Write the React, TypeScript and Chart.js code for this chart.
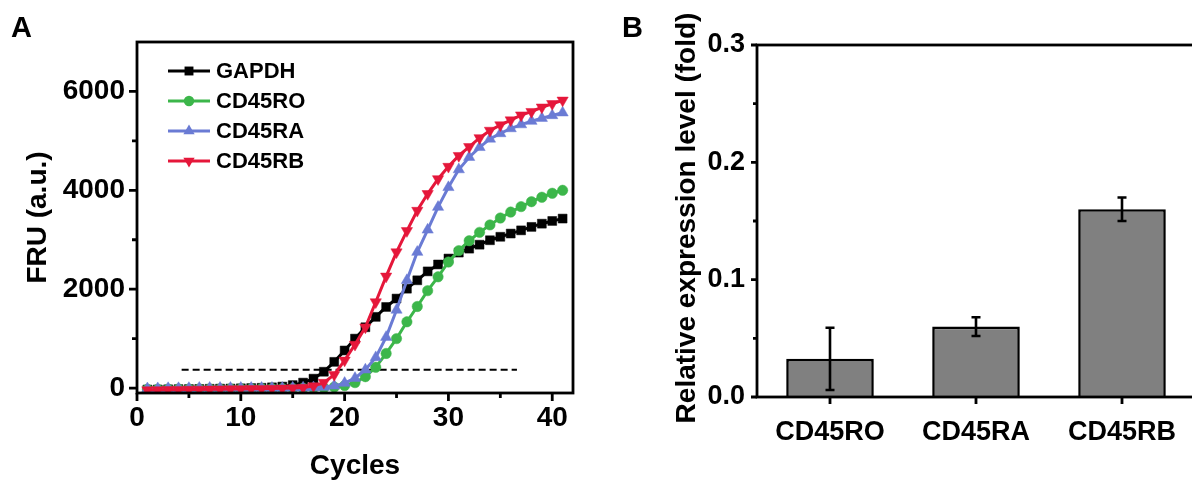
import React, { useEffect, useRef } from 'react';
import { Chart, registerables } from 'chart.js';

Chart.register(...registerables);

// ---------- Panel A data ----------
const cycles = [1, 2, 3, 4, 5, 6, 7, 8, 9, 10, 11, 12, 13, 14, 15, 16, 17, 18, 19, 20, 21, 22, 23, 24, 25, 26, 27, 28, 29, 30, 31, 32, 33, 34, 35, 36, 37, 38, 39, 40, 41];
const gapdh = [-30, -28, -25, -22, -20, -18, -15, -12, -10, -5, 0, 5, 15, 30, 60, 110, 190, 330, 530, 760, 1000, 1230, 1440, 1640, 1810, 2010, 2180, 2360, 2500, 2620, 2740, 2820, 2900, 2990, 3060, 3125, 3190, 3260, 3325, 3380, 3428];
const cd45ro = [-25, -24, -22, -20, -20, -18, -18, -16, -15, -14, -12, -10, -10, -8, -6, -4, 0, 5, 20, 50, 110, 230, 420, 700, 1000, 1340, 1650, 1970, 2250, 2550, 2780, 2980, 3150, 3300, 3440, 3560, 3670, 3770, 3860, 3940, 4000];
const cd45ra = [-10, -8, -5, -5, -3, 0, 0, 0, 0, 0, 0, 0, 0, 0, 5, 5, 10, 20, 45, 100, 200, 370, 620, 1030, 1580, 2180, 2750, 3200, 3660, 4060, 4420, 4670, 4870, 5040, 5150, 5250, 5330, 5400, 5460, 5515, 5570];
const cd45rb = [-40, -38, -35, -32, -30, -28, -25, -22, -20, -18, -15, -12, -10, -5, 0, 10, 40, 110, 270, 560, 880, 1230, 1740, 2260, 2750, 3180, 3590, 3930, 4230, 4480, 4700, 4880, 5060, 5210, 5320, 5420, 5520, 5590, 5680, 5750, 5820];
const thresholdCycles = [4.3, 36.6];
const thresholdLevel = [370, 370];
const seriesNames = ['GAPDH', 'CD45RO', 'CD45RA', 'CD45RB'];
const xMajorTicks = [0, 10, 20, 30, 40];
const xMinorTicks = [5, 15, 25, 35];
const yMajorTicks = [0, 2000, 4000, 6000];
const yMinorTicks = [1000, 3000, 5000];

// ---------- Panel B data ----------
const barCategories = ['CD45RO', 'CD45RA', 'CD45RB'];
const barValues = [0.0325, 0.06, 0.16];
const barErrors = [0.0265, 0.008, 0.01];
const barMajorTicks = [0, 0.1, 0.2, 0.3];
const barMinorTicks = [0.05, 0.15, 0.25];

const FONT = "'Liberation Sans', Arial, Helvetica, sans-serif";
Chart.defaults.font.family = FONT;

const colors = ['#000000', '#3cb64a', '#6a7bd4', '#e5173a'];
const styles: any[] = ['rect', 'circle', 'triangle', 'triangle'];
const rotations = [0, 0, 0, 180];
const radii = [6.3, 5.2, 6.5, 6.5];

function drawMarker(ctx: CanvasRenderingContext2D, idx: number, x: number, y: number) {
  const r = radii[idx];
  ctx.beginPath();
  if (idx === 0) {
    const s = r * Math.SQRT1_2;
    ctx.rect(x - s, y - s, 2 * s, 2 * s);
  } else if (idx === 1) {
    ctx.arc(x, y, r, 0, Math.PI * 2);
  } else {
    const dir = idx === 3 ? -1 : 1;
    let rad = 0;
    for (let k = 0; k < 3; k++) {
      const px = x + Math.sin(rad) * r;
      const py = y - dir * Math.cos(rad) * r;
      if (k === 0) ctx.moveTo(px, py);
      else ctx.lineTo(px, py);
      rad += (2 * Math.PI) / 3;
    }
    ctx.closePath();
  }
  ctx.fillStyle = colors[idx];
  ctx.fill();
}

const panelAPlugin = {
  id: 'panelA',
  afterDraw(chart: any) {
    const { ctx, chartArea: ca, scales } = chart;
    ctx.save();
    ctx.strokeStyle = '#000';
    ctx.lineWidth = 2.8;
    ctx.strokeRect(ca.left, ca.top, ca.right - ca.left, ca.bottom - ca.top);
    ctx.beginPath();
    xMajorTicks.forEach((v) => {
      const px = scales.x.getPixelForValue(v);
      ctx.moveTo(px, ca.bottom);
      ctx.lineTo(px, ca.bottom + 8);
    });
    xMinorTicks.forEach((v) => {
      const px = scales.x.getPixelForValue(v);
      ctx.moveTo(px, ca.bottom);
      ctx.lineTo(px, ca.bottom + 5);
    });
    yMajorTicks.forEach((v) => {
      const py = scales.y.getPixelForValue(v);
      ctx.moveTo(ca.left, py);
      ctx.lineTo(ca.left - 8, py);
    });
    yMinorTicks.forEach((v) => {
      const py = scales.y.getPixelForValue(v);
      ctx.moveTo(ca.left, py);
      ctx.lineTo(ca.left - 5, py);
    });
    ctx.stroke();

    // legend
    const rowY = [71, 101, 131, 161];
    seriesNames.forEach((name, i) => {
      const y = rowY[i];
      ctx.strokeStyle = colors[i];
      ctx.lineWidth = 3;
      ctx.beginPath();
      ctx.moveTo(168, y);
      ctx.lineTo(210, y);
      ctx.stroke();
      drawMarker(ctx, i, 189, y);
      ctx.fillStyle = '#000';
      ctx.font = `bold 22px ${FONT}`;
      ctx.textAlign = 'left';
      ctx.textBaseline = 'middle';
      ctx.fillText(name, 216, y + 1);
    });

    // panel letter
    ctx.fillStyle = '#000';
    ctx.font = `bold 29px ${FONT}`;
    ctx.textAlign = 'left';
    ctx.textBaseline = 'alphabetic';
    ctx.fillText('A', 11, 37);
    ctx.restore();
  },
};

const panelBPlugin = {
  id: 'panelB',
  afterDatasetsDraw(chart: any) {
    const { ctx, scales } = chart;
    const meta = chart.getDatasetMeta(0);
    ctx.save();
    ctx.strokeStyle = '#000';
    ctx.lineWidth = 2.6;
    meta.data.forEach((bar: any, i: number) => {
      const x = bar.x;
      const yTop = scales.y.getPixelForValue(barValues[i] + barErrors[i]);
      const yBot = scales.y.getPixelForValue(barValues[i] - barErrors[i]);
      ctx.beginPath();
      ctx.moveTo(x, yTop);
      ctx.lineTo(x, yBot);
      ctx.moveTo(x - 4.5, yTop);
      ctx.lineTo(x + 4.5, yTop);
      ctx.moveTo(x - 4.5, yBot);
      ctx.lineTo(x + 4.5, yBot);
      ctx.stroke();
    });
    ctx.restore();
  },
  afterDraw(chart: any) {
    const { ctx, chartArea: ca, scales } = chart;
    ctx.save();
    ctx.strokeStyle = '#000';
    ctx.lineWidth = 2.8;
    ctx.strokeRect(ca.left, ca.top, ca.right - ca.left, ca.bottom - ca.top);
    ctx.beginPath();
    barMajorTicks.forEach((v) => {
      const py = scales.y.getPixelForValue(v);
      ctx.moveTo(ca.left, py);
      ctx.lineTo(ca.left - 6, py);
    });
    barMinorTicks.forEach((v) => {
      const py = scales.y.getPixelForValue(v);
      ctx.moveTo(ca.left, py);
      ctx.lineTo(ca.left - 4, py);
    });
    barCategories.forEach((_, i) => {
      const px = scales.x.getPixelForValue(i);
      ctx.moveTo(px, ca.bottom);
      ctx.lineTo(px, ca.bottom + 7);
    });
    ctx.stroke();

    // y-axis title
    ctx.fillStyle = '#000';
    ctx.font = `bold 28px ${FONT}`;
    ctx.textAlign = 'center';
    ctx.textBaseline = 'middle';
    ctx.translate(87, (ca.top + ca.bottom) / 2 - 3);
    ctx.rotate(-Math.PI / 2);
    ctx.fillText('Relative expression level (fold)', 0, 0);
    ctx.restore();

    ctx.save();
    ctx.fillStyle = '#000';
    ctx.font = `bold 29px ${FONT}`;
    ctx.textAlign = 'left';
    ctx.textBaseline = 'alphabetic';
    ctx.fillText('B', 22, 37);
    ctx.restore();
  },
};

export default function App() {
  const refA = useRef<HTMLCanvasElement>(null);
  const refB = useRef<HTMLCanvasElement>(null);

  useEffect(() => {
    const series = [gapdh, cd45ro, cd45ra, cd45rb];
    const drawOrder = [3, 2, 1, 0];
    const datasets: any[] = series.map((vals, i) => ({
      label: seriesNames[i],
      data: cycles.map((c, k) => ({ x: c, y: vals[k] })),
      borderColor: colors[i],
      backgroundColor: colors[i],
      borderWidth: 3,
      pointStyle: styles[i],
      rotation: rotations[i],
      pointRadius: radii[i],
      pointBorderWidth: 0.5,
      pointBorderColor: colors[i],
      pointBackgroundColor: colors[i],
      tension: 0,
      order: drawOrder[i],
    }));
    datasets.push({
      label: 'threshold',
      data: thresholdCycles.map((c, k) => ({ x: c, y: thresholdLevel[k] })),
      borderColor: '#000',
      borderWidth: 2.2,
      borderDash: [7, 4],
      pointRadius: 0,
      order: 5,
    });

    const chartA = new Chart(refA.current as HTMLCanvasElement, {
      type: 'line',
      data: { datasets },
      options: {
        responsive: false,
        animation: false,
        layout: { padding: { left: 0, top: 42, right: 27, bottom: 0 } },
        plugins: { legend: { display: false }, tooltip: { enabled: false } },
        scales: {
          x: {
            type: 'linear',
            min: 0,
            max: 42,
            border: { display: false },
            grid: { display: true, drawOnChartArea: false, drawTicks: true, tickLength: 8, tickColor: 'rgba(0,0,0,0)' },
            afterBuildTicks: (s: any) => { s.ticks = xMajorTicks.map((v) => ({ value: v })); },
            ticks: { color: '#000', padding: 0, maxRotation: 0, font: { size: 28, weight: 'bold', lineHeight: 1.2 }, callback: (v: any) => String(v) },
            title: { display: true, text: 'Cycles', color: '#000', font: { size: 28, weight: 'bold', lineHeight: 1.2 }, padding: { top: 0, bottom: 0 } },
            afterFit: (s: any) => { s.height = 90; },
          },
          y: {
            type: 'linear',
            min: -100,
            max: 7000,
            border: { display: false },
            grid: { display: true, drawOnChartArea: false, drawTicks: true, tickLength: 8, tickColor: 'rgba(0,0,0,0)' },
            afterBuildTicks: (s: any) => { s.ticks = yMajorTicks.map((v) => ({ value: v })); },
            ticks: { color: '#000', padding: 4, font: { size: 28, weight: 'bold', lineHeight: 1.2 }, callback: (v: any) => String(v) },
            title: { display: true, text: 'FRU (a.u.)', color: '#000', font: { size: 28, weight: 'bold', lineHeight: 1.2 }, padding: { top: 21, bottom: 0 } },
            afterFit: (s: any) => { s.width = 137; },
          },
        },
      },
      plugins: [panelAPlugin],
    } as any);

    const chartB = new Chart(refB.current as HTMLCanvasElement, {
      type: 'bar',
      data: {
        labels: barCategories,
        datasets: [{
          data: barValues,
          backgroundColor: '#808080',
          borderColor: '#000',
          borderWidth: 2.6,
          barPercentage: 0.6,
          categoryPercentage: 1,
        }],
      },
      options: {
        responsive: false,
        animation: false,
        layout: { padding: { left: 0, top: 45, right: 45, bottom: 0 } },
        plugins: { legend: { display: false }, tooltip: { enabled: false } },
        scales: {
          x: {
            border: { display: false },
            grid: { display: true, drawOnChartArea: false, drawTicks: true, tickLength: 7, tickColor: 'rgba(0,0,0,0)' },
            ticks: { color: '#000', padding: 12, maxRotation: 0, autoSkip: false, font: { size: 27, weight: 'bold', lineHeight: 1.2 } },
            afterFit: (s: any) => { s.height = 86; },
          },
          y: {
            min: 0,
            max: 0.3,
            border: { display: false },
            grid: { display: true, drawOnChartArea: false, drawTicks: true, tickLength: 6, tickColor: 'rgba(0,0,0,0)' },
            afterBuildTicks: (s: any) => { s.ticks = barMajorTicks.map((v) => ({ value: v })); },
            ticks: { color: '#000', padding: 6, font: { size: 27, weight: 'bold', lineHeight: 1.2 }, callback: (v: any) => Number(v).toFixed(1) },
            afterFit: (s: any) => { s.width = 157; },
          },
        },
      },
      plugins: [panelBPlugin],
    } as any);

    return () => {
      chartA.destroy();
      chartB.destroy();
    };
  }, []);

  return (
    <div style={{ position: 'absolute', left: 0, top: 0, width: 1192, height: 483, overflow: 'hidden', background: '#fff' }}>
      <canvas ref={refA} width={600} height={483} style={{ position: 'absolute', left: 0, top: 0, width: 600, height: 483 }} />
      <canvas ref={refB} width={640} height={483} style={{ position: 'absolute', left: 600, top: 0, width: 640, height: 483 }} />
    </div>
  );
}
